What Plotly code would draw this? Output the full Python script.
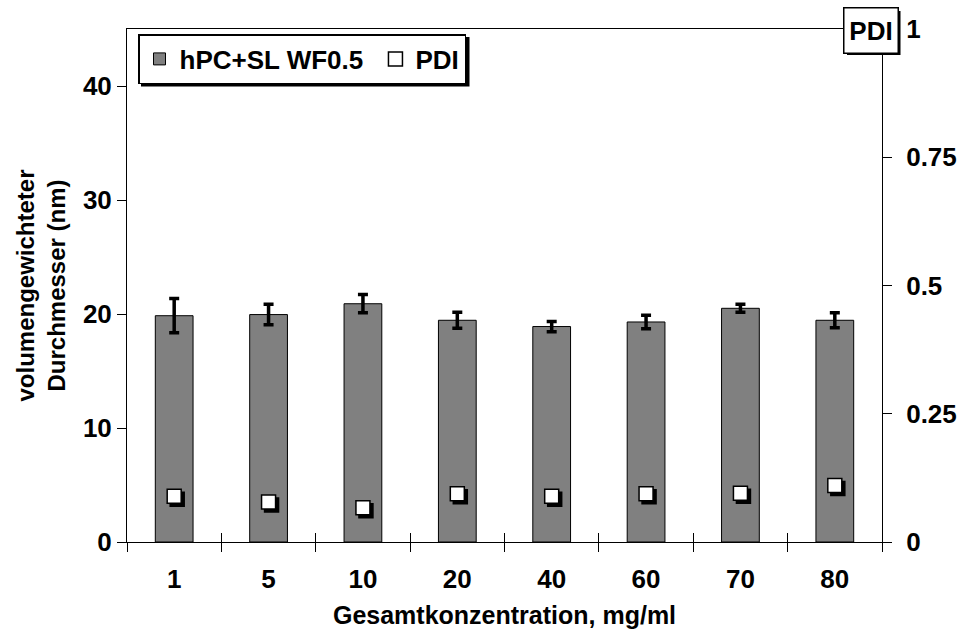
import plotly.graph_objects as go

# ---- data ----
categories = ["1", "5", "10", "20", "40", "60", "70", "80"]
diameter = [19.85, 19.95, 20.9, 19.45, 18.9, 19.3, 20.5, 19.45]
diameter_err = [1.5, 0.9, 0.8, 0.7, 0.45, 0.6, 0.35, 0.65]
pdi = [0.089, 0.078, 0.067, 0.094, 0.089, 0.094, 0.095, 0.110]
left_ticks = [0, 10, 20, 30, 40]
right_ticks = [0, 0.25, 0.5, 0.75, 1]
right_labels = ["0", "0.25", "0.5", "0.75", "1"]

# body margin removed in post_script: plot area target = x 127..882, y 29..542
W, H = 960, 634
ML, MR, MT, MB = 127, 78, 29, 92
PW, PH = W - ML - MR, H - MT - MB


def px(xp):
    return (xp - ML) / PW


def py(yp):
    return (MT + PH - yp) / PH


n = len(categories)
idx = list(range(n))
bounds = [i - 0.5 for i in range(n + 1)]
xr = [-0.5, n - 0.5]
yl = [0, 45]
yr = [0, 1]

FONT = "Liberation Sans, Arial, sans-serif"
bold = dict(family=FONT, size=26, color="black", weight="bold")
bold_x = dict(family=FONT, size=25, color="black", weight="bold")
bold_y = dict(family=FONT, size=24, color="black", weight="bold")

# shadow offsets (pixels -> data units)
sh = 3
dx = sh / PW * (xr[1] - xr[0])
dy = sh / PH * (yr[1] - yr[0])

fig = go.Figure()

fig.add_trace(go.Bar(
    x=idx, y=diameter, name="hPC+SL WF0.5\u00a0",
    marker=dict(color="#808080", line=dict(color="black", width=1)),
    error_y=dict(type="data", array=diameter_err, color="black", thickness=3.5, width=5),
    xaxis="x", yaxis="y",
))

# shadow of PDI markers
fig.add_trace(go.Scatter(
    x=idx, y=pdi, mode="markers", showlegend=False, hoverinfo="skip",
    marker=dict(symbol="square", size=14, color="black", line=dict(color="black", width=1.5)),
    xaxis="x2", yaxis="y2",
))

fig.add_trace(go.Scatter(
    x=idx, y=pdi, mode="markers", name="PDI",
    marker=dict(symbol="square", size=14, color="white", line=dict(color="black", width=1.5)),
    xaxis="x3", yaxis="y3",
))

line_c = "black"
fig.update_layout(
    width=W, height=H,
    margin=dict(l=ML, r=MR, t=MT, b=MB, autoexpand=False),
    paper_bgcolor="white", plot_bgcolor="white",
    font=bold,
    bargap=0.6,
    xaxis=dict(
        range=xr, tickvals=idx, ticktext=categories, ticks="",
        tickfont=bold, showgrid=False, zeroline=False, automargin=False,
        showline=True, linecolor=line_c, linewidth=1, mirror=True,
        minor=dict(tickvals=bounds, ticks="outside", ticklen=9, tickcolor=line_c, tickwidth=1, showgrid=False),
        ticklabelstandoff=14,
        title=dict(text="Gesamtkonzentration, mg/ml", font=bold_x, standoff=13),
    ),
    xaxis2=dict(range=[xr[0] - dx, xr[1] - dx], overlaying="x", visible=False, anchor="y"),
    xaxis3=dict(range=xr, overlaying="x", anchor="y", tickvals=bounds, ticks="inside",
                ticklen=9, tickcolor=line_c, showticklabels=False, showline=False,
                showgrid=False, zeroline=False, automargin=False),
    yaxis=dict(
        range=yl, tickvals=left_ticks, ticks="outside", ticklen=9, tickcolor=line_c,
        tickfont=bold, showgrid=False, zeroline=False, automargin=False,
        showline=True, linecolor=line_c, linewidth=1, mirror=True,
        ticklabelstandoff=0,
        title=dict(text="volumengewichteter<br>Durchmesser (nm)", font=bold_y, standoff=10),
    ),
    yaxis2=dict(range=[yr[0] + dy, yr[1] + dy], overlaying="y", visible=False, anchor="x"),
    yaxis3=dict(
        range=yr, tickvals=right_ticks, ticktext=right_labels,
        overlaying="y", side="right", anchor="x", automargin=False,
        ticks="outside", ticklen=9, tickcolor=line_c, tickfont=bold,
        showgrid=False, zeroline=False, showline=True, linecolor=line_c, linewidth=1,
        ticklabelstandoff=9,
    ),
    yaxis4=dict(range=yl, tickvals=left_ticks, overlaying="y", side="left", anchor="x",
                ticks="inside", ticklen=9, tickcolor=line_c, showticklabels=False,
                showgrid=False, zeroline=False, showline=False, automargin=False),
    yaxis5=dict(range=yr, tickvals=right_ticks, overlaying="y", side="right", anchor="x",
                ticks="inside", ticklen=9, tickcolor=line_c, showticklabels=False,
                showgrid=False, zeroline=False, showline=False, automargin=False),
    showlegend=True,
    legend=dict(
        orientation="h", x=px(138), y=py(34),
        xanchor="left", yanchor="top",
        bgcolor="white", bordercolor="black", borderwidth=1.5,
        font=bold, itemwidth=30, tracegroupgap=0,
    ),
)

# legend shadow
fig.add_shape(type="rect", xref="paper", yref="paper", layer="above",
              x0=px(141), x1=px(469.5), y0=py(86.5), y1=py(37),
              fillcolor="black", line=dict(width=0))

# PDI box shadow
fig.add_shape(type="rect", xref="paper", yref="paper", layer="above",
              x0=px(847), x1=px(900.5), y0=py(55), y1=py(11),
              fillcolor="black", line=dict(width=0))

fig.add_annotation(
    text="PDI", xref="paper", yref="paper",
    x=px(870.5), y=py(30), xanchor="center", yanchor="middle",
    showarrow=False, font=bold, bgcolor="white", bordercolor="black", borderwidth=1.5,
    width=53, height=44, borderpad=0,
)

fig.write_html(
    "out.html",
    config={"displayModeBar": False},
    post_script="document.body.style.margin='0';document.body.style.overflow='hidden';",
)
